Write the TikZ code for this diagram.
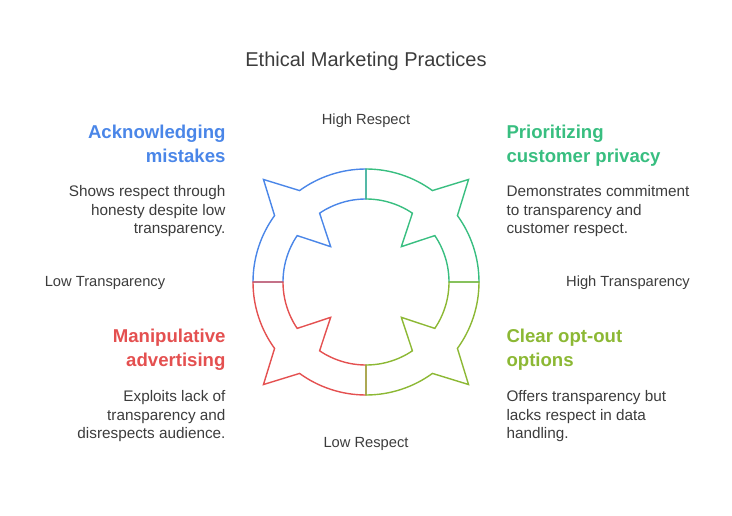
\documentclass[tikz,border=0pt]{standalone}
\usepackage{fontspec}
\setmainfont{Liberation Sans}
\definecolor{cblue}{RGB}{74,134,232}
\definecolor{cgreen}{RGB}{56,190,128}
\definecolor{clime}{RGB}{140,184,52}
\definecolor{cred}{RGB}{228,80,80}
\definecolor{ctext}{RGB}{60,60,60}
\tikzset{
  axis/.style={text=ctext, font=\fontsize{14.7}{17}\selectfont},
  head/.style={font=\bfseries\fontsize{18.6}{24}\selectfont, align=#1},
  body/.style={text=ctext, font=\fontsize{15.3}{18.5}\selectfont, align=#1},
}
\begin{document}
\begin{tikzpicture}[x=1pt, y=-1pt]
				\useasboundingbox (0,0) rectangle (732,516);
				
				\node[text=ctext, font=\fontsize{20}{24}\selectfont] (T) at (366,61) {Ethical Marketing Practices};
				
				% ring quadrants
				\foreach \r/\c in {0/cblue, -90/cred, 90/cgreen, 180/clime}{
					\begin{scope}[shift={(366,282)}, yscale=-1, rotate=\r]
						\draw[\c, line width=1.4pt, line join=miter]
						(90:113) arc[start angle=90, end angle=126, radius=113]
						-- (135:145) -- (144:113)
						arc[start angle=144, end angle=180, radius=113]
						-- (180:83) arc[start angle=180, end angle=146, radius=83]
						-- (135:50) -- (124:83)
						arc[start angle=124, end angle=90, radius=83] -- cycle;
					\end{scope}
				}
				
				\node[axis] (HR) at (366,121) {High Respect};
				\node[axis] (LR) at (366,444) {Low Respect};
				\node[axis] (LT) at (105,283) {Low Transparency};
				\node[axis] (HT) at (628,283) {High Transparency};
				
				\node[head=right, text=cblue, anchor=north east] (H1) at (229,121) {Acknowledging\\mistakes};
				\node[body=right, anchor=north east] (B1) at (229,182) {Shows respect through\\honesty despite low\\transparency.};
				
				\node[head=left, text=cgreen, anchor=north west] (H2) at (503,121) {Prioritizing\\customer privacy};
				\node[body=left, anchor=north west] (B2) at (503,182) {Demonstrates commitment\\to transparency and\\customer respect.};
				
				\node[head=right, text=cred, anchor=north east] (H3) at (229,325) {Manipulative\\advertising};
				\node[body=right, anchor=north east] (B3) at (229,387) {Exploits lack of\\transparency and\\disrespects audience.};
				
				\node[head=left, text=clime, anchor=north west] (H4) at (503,325) {Clear opt-out\\options};
				\node[body=left, anchor=north west] (B4) at (503,387) {Offers transparency but\\lacks respect in data\\handling.};
				
\end{tikzpicture}
\end{document}
